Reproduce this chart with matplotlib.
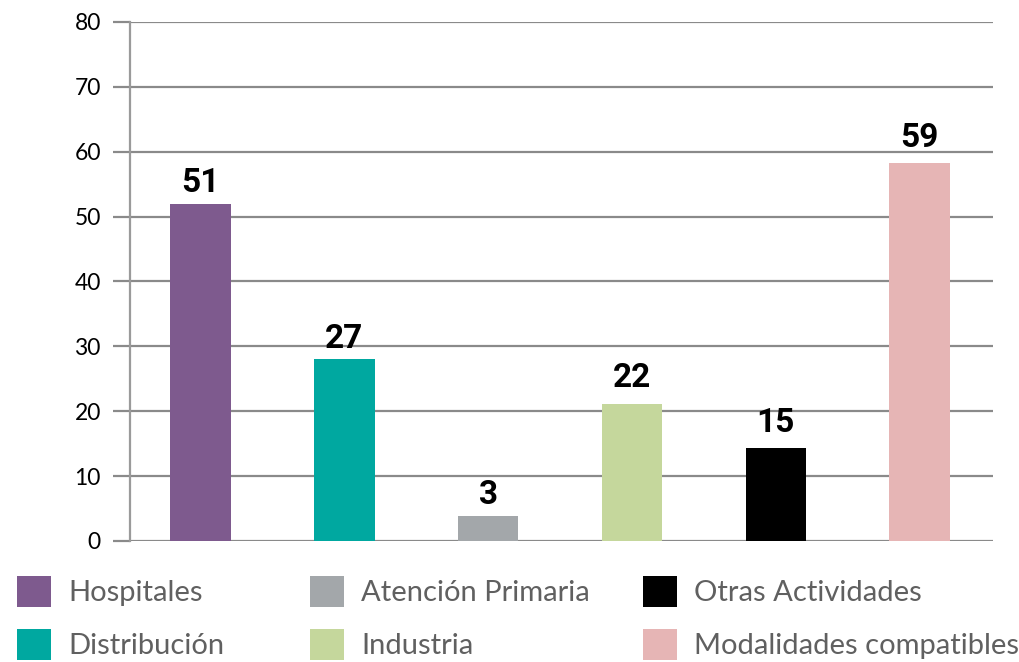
import matplotlib
matplotlib.use('Agg')
import matplotlib.pyplot as plt
from matplotlib.patches import Patch

# Data
categories = ['Hospitales', 'Distribución', 'Atención Primaria',
              'Industria', 'Otras Actividades', 'Modalidades compatibles']
bar_heights = [52, 28, 3.9, 21.1, 14.3, 58.3]
label_values = [51, 27, 3, 22, 15, 59]
colors = ['#7E5A8E', '#00A8A0', '#A3A7AA', '#C5D79C', '#000000', '#E6B5B5']

fig = plt.figure(figsize=(10.2, 6.62), dpi=100)
ax = fig.add_axes([0.1275, 0.1828, 0.846, 0.784])

x = list(range(len(categories)))
ax.bar(x, bar_heights, width=0.42, color=colors, zorder=3)

# value labels above the bars
for xi, h, v in zip(x, bar_heights, label_values):
    ax.text(xi, max(h, v) + 1.8, str(v), ha='center', va='baseline',
            fontsize=24, fontweight='bold',
            family=['Roboto', 'DejaVu Sans'],
            color='black', zorder=4)

ax.set_xlim(-0.49, 5.51)
ax.set_ylim(0, 80)
ax.set_yticks(range(0, 81, 10))
ax.set_xticks([])
ax.yaxis.grid(True, color='#8a8a8a', linewidth=1.6, zorder=0)
for side in ['top', 'right', 'bottom']:
    ax.spines[side].set_visible(False)
ax.spines['left'].set_color('#9a9a9a')
ax.spines['left'].set_linewidth(1.6)
ax.tick_params(axis='y', length=12, width=1.6, color='#8a8a8a',
               labelsize=16.5, labelcolor='black', pad=9)
for lbl in ax.get_yticklabels():
    lbl.set_family('Lato')

# legend: three columns of two entries each
handles = [Patch(facecolor=c, edgecolor='none') for c in colors]
col_x = [0.0167, 0.304, 0.630]
for i, cx in enumerate(col_x):
    fig.legend(handles[2 * i:2 * i + 2], categories[2 * i:2 * i + 2],
               loc='lower left', bbox_to_anchor=(cx, 0.003),
               frameon=False, prop={'family': 'Lato', 'size': 21},
               labelcolor='#606060', handlelength=1.17, handleheight=1.27,
               handletextpad=0.59, labelspacing=0.75,
               borderpad=0, borderaxespad=0)

fig.savefig('out.png', dpi=100)
